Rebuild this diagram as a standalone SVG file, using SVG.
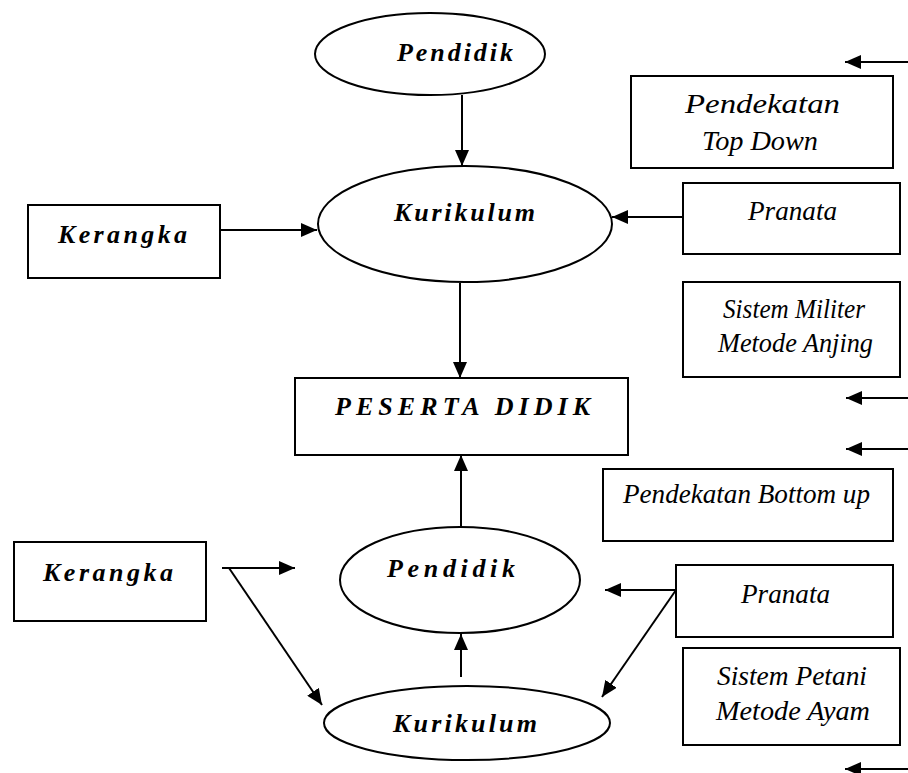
<svg xmlns="http://www.w3.org/2000/svg" width="908" height="773" viewBox="0 0 908 773">
<defs>
<marker id="ah" viewBox="0 0 16 14" refX="16" refY="7" markerWidth="16" markerHeight="14" markerUnits="userSpaceOnUse" orient="auto">
<path d="M0,0 L16,7 L0,14 z" fill="#000"/>
</marker>
</defs>
<style>
.shape{fill:#fff;stroke:#000;stroke-width:2}
.b{font-family:'Liberation Serif','Times New Roman','DejaVu Serif',serif;font-style:italic;font-weight:bold;font-size:26px;fill:#000}
.r{font-family:'Liberation Serif','Times New Roman','DejaVu Serif',serif;font-style:italic;font-weight:normal;font-size:28px;fill:#000}
.c line{stroke:#000;stroke-width:2;fill:none}
</style>
<rect width="908" height="773" fill="#fff"/>
<g id="pendidik-top"><ellipse class="shape" cx="430" cy="54" rx="115" ry="41"/><text class="b" x="397" y="61" textLength="116">Pendidik</text></g>
<g id="kurikulum-top"><ellipse class="shape" cx="465" cy="224" rx="147" ry="58"/><text class="b" x="394" y="221" textLength="141">Kurikulum</text></g>
<g id="kerangka-top"><rect class="shape" x="28" y="205" width="192" height="73"/><text class="b" x="58" y="243" textLength="129">Kerangka</text></g>
<g id="top-down"><rect class="shape" x="631" y="76" width="262" height="92"/><text class="r" x="685" y="113" textLength="155" lengthAdjust="spacingAndGlyphs">Pendekatan</text><text class="r" x="702" y="150" textLength="116" lengthAdjust="spacingAndGlyphs">Top Down</text></g>
<g id="pranata-top"><rect class="shape" x="683" y="183" width="217" height="71"/><text class="r" x="748" y="220" textLength="89" lengthAdjust="spacingAndGlyphs">Pranata</text></g>
<g id="militer"><rect class="shape" x="683" y="282" width="217" height="95"/><text class="r" x="723" y="318" textLength="142" lengthAdjust="spacingAndGlyphs">Sistem Militer</text><text class="r" x="718" y="352" textLength="155" lengthAdjust="spacingAndGlyphs">Metode Anjing</text></g>
<g id="peserta"><rect class="shape" x="295" y="378" width="333" height="77"/><text class="b" x="335" y="415" textLength="255">PESERTA DIDIK</text></g>
<g id="bottom-up"><rect class="shape" x="603" y="469" width="290" height="72"/><text class="r" x="623" y="503" textLength="247" lengthAdjust="spacingAndGlyphs">Pendekatan Bottom up</text></g>
<g id="kerangka-bottom"><rect class="shape" x="14" y="542" width="192" height="79"/><text class="b" x="43" y="581" textLength="130">Kerangka</text></g>
<g id="pendidik-bottom"><ellipse class="shape" cx="460" cy="580" rx="120" ry="53"/><text class="b" x="387" y="577" textLength="128">Pendidik</text></g>
<g id="pranata-bottom"><rect class="shape" x="676" y="565" width="217" height="72"/><text class="r" x="741" y="603" textLength="89" lengthAdjust="spacingAndGlyphs">Pranata</text></g>
<g id="petani"><rect class="shape" x="683" y="648" width="217" height="97"/><text class="r" x="717" y="685" textLength="150" lengthAdjust="spacingAndGlyphs">Sistem Petani</text><text class="r" x="716" y="720" textLength="154" lengthAdjust="spacingAndGlyphs">Metode Ayam</text></g>
<g id="kurikulum-bottom"><ellipse class="shape" cx="467" cy="723" rx="143" ry="37"/><text class="b" x="393" y="732" textLength="144">Kurikulum</text></g>
<g id="connectors" class="c">
<line x1="462" y1="95" x2="462" y2="166" marker-end="url(#ah)"/>
<line x1="220" y1="230" x2="317" y2="230" marker-end="url(#ah)"/>
<line x1="683" y1="217" x2="612" y2="217" marker-end="url(#ah)"/>
<line x1="908" y1="62" x2="845" y2="62" marker-end="url(#ah)"/>
<line x1="460" y1="283" x2="460" y2="378" marker-end="url(#ah)"/>
<line x1="908" y1="398" x2="846" y2="398" marker-end="url(#ah)"/>
<line x1="908" y1="449" x2="846" y2="449" marker-end="url(#ah)"/>
<line x1="461" y1="527" x2="461" y2="455" marker-end="url(#ah)"/>
<line x1="222" y1="568" x2="295" y2="568" marker-end="url(#ah)"/>
<line x1="229" y1="568" x2="322" y2="705" marker-end="url(#ah)"/>
<line x1="461" y1="677" x2="461" y2="634" marker-end="url(#ah)"/>
<line x1="676" y1="590" x2="605" y2="590" marker-end="url(#ah)"/>
<line x1="676" y1="590" x2="602" y2="697" marker-end="url(#ah)"/>
<line x1="908" y1="769" x2="845" y2="769" marker-end="url(#ah)"/>
</g>
</svg>
